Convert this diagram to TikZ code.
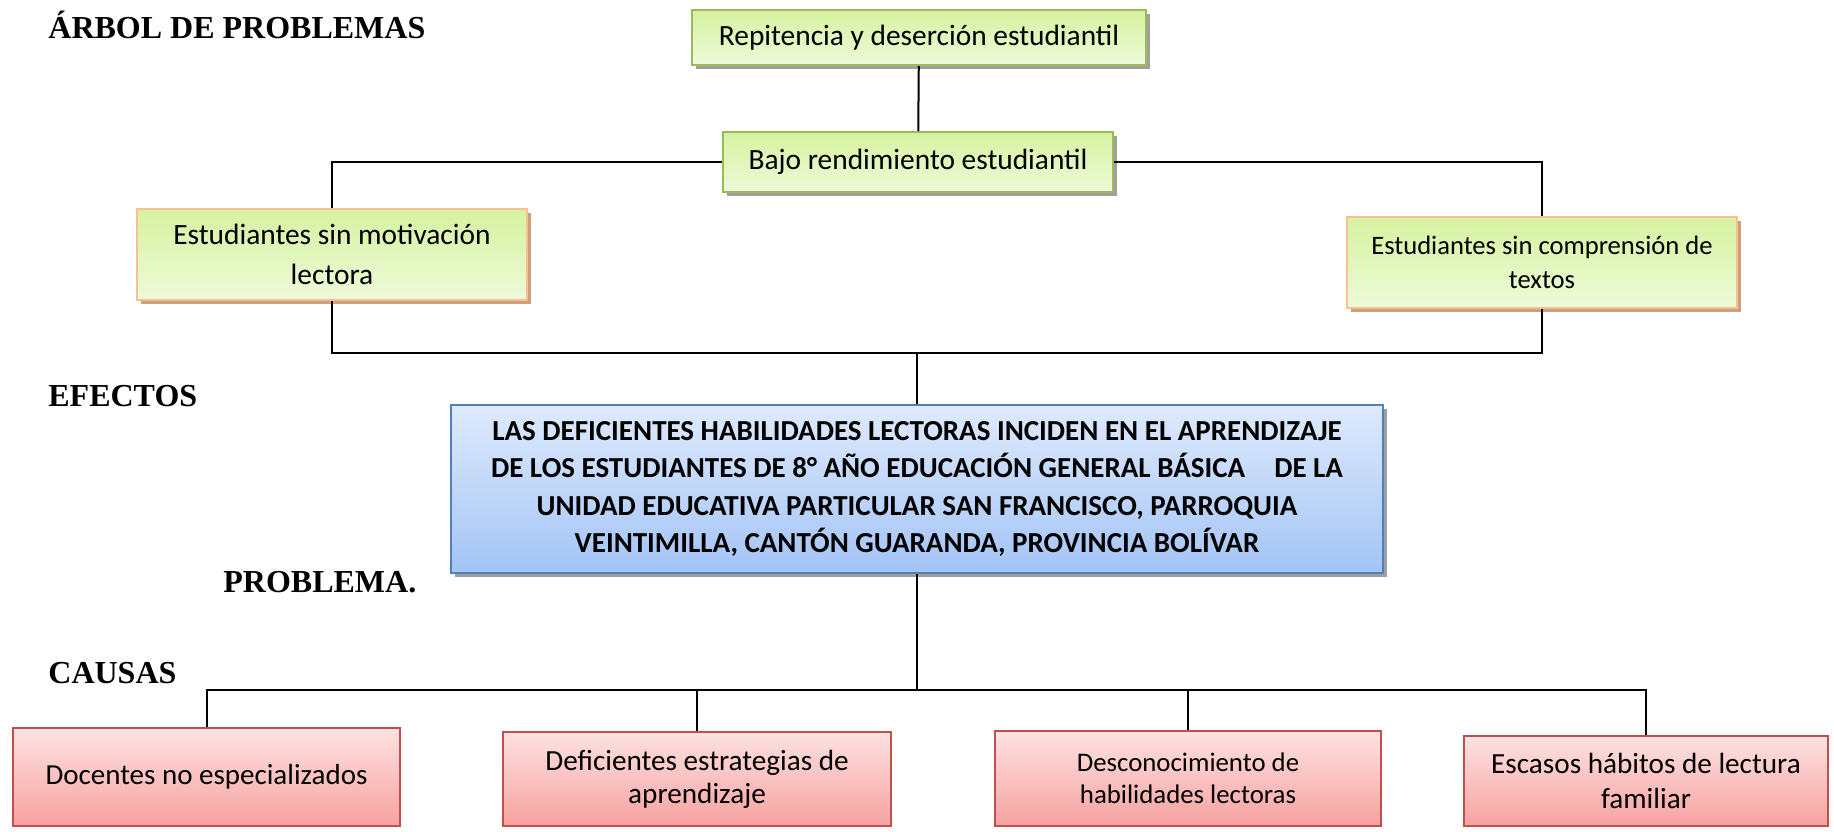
\documentclass[tikz,border=0pt]{standalone}
\usepackage{fontspec}
\setmainfont{Carlito}
\newfontfamily\titlefont{Liberation Serif}
\usetikzlibrary{shadows}

\definecolor{efftop}{RGB}{214,242,160}
\definecolor{effbot}{RGB}{238,250,218}
\definecolor{effline}{RGB}{155,187,89}
\definecolor{subline}{RGB}{250,192,143}
\definecolor{subshadow}{RGB}{205,160,125}
\definecolor{probtop}{RGB}{222,234,252}
\definecolor{probbot}{RGB}{163,196,246}
\definecolor{probline}{RGB}{79,129,189}
\definecolor{causetop}{RGB}{253,226,226}
\definecolor{causebot}{RGB}{246,162,160}
\definecolor{causeline}{RGB}{192,80,77}

\begin{document}
\begin{tikzpicture}[x=0.5pt,y=-0.5pt,
    every node/.style={inner sep=0pt, align=center},
    effbox/.style={draw=effline, line width=1pt, top color=efftop, bottom color=effbot,
        drop shadow={shadow xshift=2pt, shadow yshift=-2pt, fill=gray!75, opacity=1}},
    subbox/.style={draw=subline, line width=1pt, top color=efftop, bottom color=effbot,
        drop shadow={shadow xshift=2pt, shadow yshift=-2pt, fill=subshadow, opacity=1}},
    probbox/.style={draw=probline, line width=1pt, top color=probtop, bottom color=probbot,
        drop shadow={shadow xshift=2pt, shadow yshift=-2pt, fill=gray!75, opacity=1}},
    causebox/.style={draw=causeline, line width=1pt, top color=causetop, bottom color=causebot},
    sidelabel/.style={anchor=base west, font=\titlefont\bfseries\fontsize{16}{19}\selectfont},
    link/.style={line width=1pt}]

    \useasboundingbox (0,0) rectangle (1834,831);

    \def\xc{917}
    \def\yeff{353}
    \def\ycause{690}

    % efectos
    \node[effbox, minimum width=227pt, minimum height=27.5pt, font=\fontsize{14.7}{17}\selectfont]
        (rep) at (919,37.5) {Repitencia y deserción estudiantil};
    \node[effbox, minimum width=195pt, minimum height=30pt, font=\fontsize{14.7}{17}\selectfont]
        (bajo) at (918,162) {Bajo rendimiento estudiantil};
    \node[subbox, minimum width=195pt, minimum height=45.5pt, font=\fontsize{14.7}{20}\selectfont]
        (motiv) at (332,254.5) {Estudiantes sin motivación\\lectora};
    \node[subbox, minimum width=195pt, minimum height=45.5pt, font=\fontsize{13.3}{17}\selectfont]
        (compr) at (1542,262.5) {Estudiantes sin comprensión de\\textos};

    % problema
    \node[probbox, minimum width=466pt, minimum height=84pt, font=\bfseries\fontsize{14.5}{18.7}\selectfont]
        (prob) at (\xc,489) {LAS DEFICIENTES HABILIDADES LECTORAS INCIDEN EN EL APRENDIZAJE\\
        DE LOS ESTUDIANTES DE 8° AÑO EDUCACIÓN GENERAL BÁSICA\quad DE LA\\
        UNIDAD EDUCATIVA PARTICULAR SAN FRANCISCO, PARROQUIA\\
        VEINTIMILLA, CANTÓN GUARANDA, PROVINCIA BOLÍVAR};

    % causas
    \node[causebox, minimum width=193.5pt, minimum height=49pt, font=\fontsize{14.5}{17}\selectfont]
        (doc) at (206.5,777) {Docentes no especializados};
    \node[causebox, minimum width=194pt, minimum height=47pt, font=\fontsize{14.6}{16.5}\selectfont]
        (def) at (697,779) {Deficientes estrategias de\\aprendizaje};
    \node[causebox, minimum width=193pt, minimum height=47.5pt, font=\fontsize{13.4}{16}\selectfont]
        (desc) at (1188,778.5) {Desconocimiento de\\habilidades lectoras};
    \node[causebox, minimum width=182pt, minimum height=45pt, font=\fontsize{14.6}{17.5}\selectfont]
        (esc) at (1646,781) {Escasos hábitos de lectura\\familiar};

    \node[sidelabel] (arbol) at (48,38) {ÁRBOL DE PROBLEMAS};
    \node[sidelabel] (efectos) at (48,406) {EFECTOS};
    \node[sidelabel] (problema) at (223,592) {PROBLEMA.};
    \node[sidelabel] (causas) at (48,683) {CAUSAS};

    \coordinate (ej) at (\xc,\yeff);
    \coordinate (cj) at (\xc,\ycause);

    \draw[link] (rep) -- (bajo);
    \draw[link] (motiv.north) |- (bajo.west);
    \draw[link] (compr.north) |- (bajo.east);
    \draw[link] (motiv.south) |- (ej) -| (compr.south);
    \draw[link] (ej) -- (prob.north);
    \draw[link] (prob.south) -- (cj);
    \draw[link] (doc.north) |- (cj) -| (esc.north);
    \draw[link] (def.north) -- (def.north |- cj);
    \draw[link] (desc.north) -- (desc.north |- cj);

\end{tikzpicture}
\end{document}
